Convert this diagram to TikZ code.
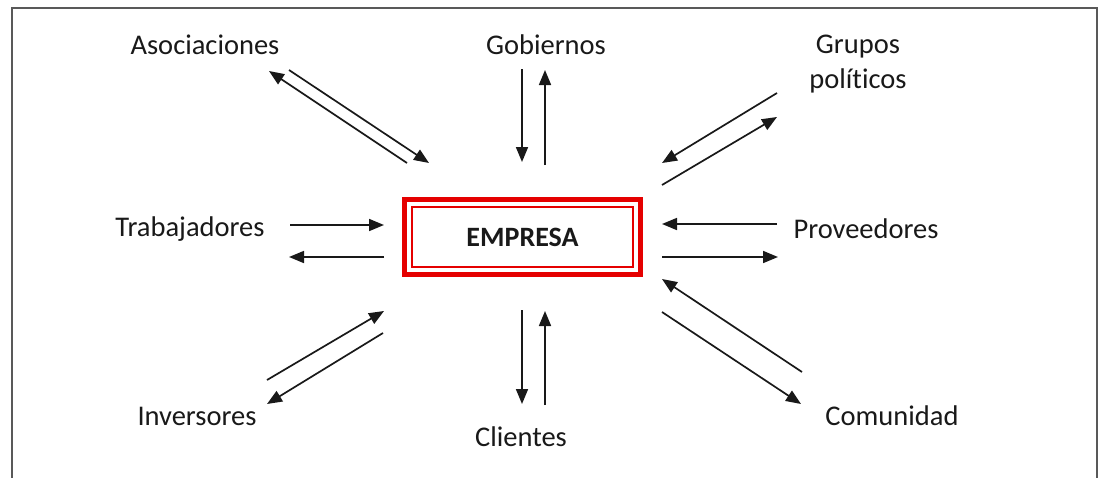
\documentclass[tikz,border=0pt]{standalone}
\usepackage{fontspec}
\setmainfont{Carlito}[Ligatures=NoCommon]
\usetikzlibrary{arrows.meta}
\begin{document}
\begin{tikzpicture}[x=1pt,y=-1pt,
  lbl/.style={text=black!90, font=\fontsize{28.5}{33}\selectfont, inner sep=0pt, align=center},
  arr/.style={line width=1.7pt, draw=black!90, -{Triangle[length=15pt,width=12pt]}},
  frame/.style={line width=2pt, draw=black!65}
]
\useasboundingbox (0,0) rectangle (1100,477);
\fill[white] (0,0) rectangle (1100,477);
\draw[frame] (12,482) -- (12,8) -- (1097,8) -- (1097,482);

% central box
\node[draw=red!90!black, line width=5pt, minimum width=236pt, minimum height=75pt, inner sep=0pt] (emp) at (522.5,237) {};
\node[draw=red!90!black, line width=1.5pt, minimum width=221pt, minimum height=60pt, font=\fontsize{28}{32}\selectfont\bfseries, text=black!90] (empi) at (522.5,237) {EMPRESA};

% labels
\node[lbl] (aso) at (205,45) {Asociaciones};
\node[lbl] (gob) at (546,45) {Gobiernos};
\node[lbl] (gru) at (858,64) {Grupos\\[2pt]polít\kern0pt icos};
\node[lbl] (tra) at (190,229) {Trabajadores};
\node[lbl] (pro) at (866,229) {Proveedores};
\node[lbl] (inv) at (197,416) {Inversores};
\node[lbl] (cli) at (521,437) {Clientes};
\node[lbl] (com) at (892,416) {Comunidad};

% endpoint coordinates
\coordinate (a1s) at (407,163); \coordinate (a1e) at (269,71);
\coordinate (a2s) at (289,70);  \coordinate (a2e) at (429,163);
\coordinate (g1s) at (522,69);  \coordinate (g1e) at (522,162);
\coordinate (g2s) at (545,165); \coordinate (g2e) at (545,70);
\coordinate (p1s) at (777,93);  \coordinate (p1e) at (662,163);
\coordinate (p2s) at (662,185); \coordinate (p2e) at (777,117);
\coordinate (t1s) at (290,225); \coordinate (t1e) at (384,225);
\coordinate (t2s) at (384,257); \coordinate (t2e) at (289,257);
\coordinate (v1s) at (777,224); \coordinate (v1e) at (662,224);
\coordinate (v2s) at (662,257); \coordinate (v2e) at (778,257);
\coordinate (i1s) at (267,380); \coordinate (i1e) at (384,311);
\coordinate (i2s) at (383,333); \coordinate (i2e) at (267,404);
\coordinate (c1s) at (522,310); \coordinate (c1e) at (522,404);
\coordinate (c2s) at (545,405); \coordinate (c2e) at (545,311);
\coordinate (m1s) at (802,372); \coordinate (m1e) at (662,279);
\coordinate (m2s) at (662,312); \coordinate (m2e) at (801,404);

\draw[arr] (a1s) -- (a1e);
\draw[arr] (a2s) -- (a2e);
\draw[arr] (g1s) -- (g1e);
\draw[arr] (g2s) -- (g2e);
\draw[arr] (p1s) -- (p1e);
\draw[arr] (p2s) -- (p2e);
\draw[arr] (t1s) -- (t1e);
\draw[arr] (t2s) -- (t2e);
\draw[arr] (v1s) -- (v1e);
\draw[arr] (v2s) -- (v2e);
\draw[arr] (i1s) -- (i1e);
\draw[arr] (i2s) -- (i2e);
\draw[arr] (c1s) -- (c1e);
\draw[arr] (c2s) -- (c2e);
\draw[arr] (m1s) -- (m1e);
\draw[arr] (m2s) -- (m2e);
\end{tikzpicture}
\end{document}
